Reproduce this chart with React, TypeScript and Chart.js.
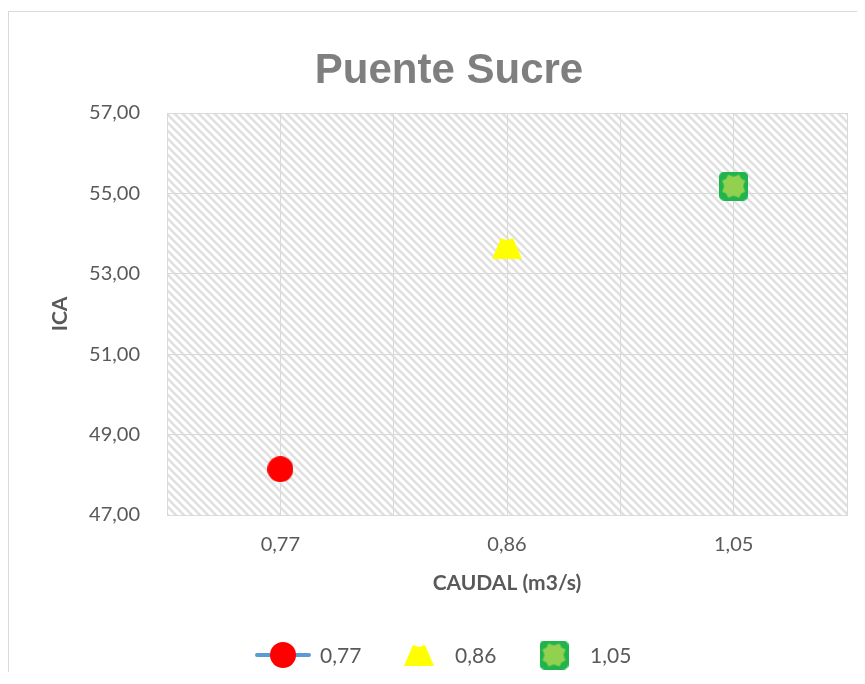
import React, { useEffect, useRef } from "react";
import { Chart, registerables } from "chart.js";
Chart.register(...registerables);

const chartTitle = "Puente Sucre";
const xAxisTitle = "CAUDAL (m3/s)";
const yAxisTitle = "ICA";
const categories = ["0,77", "0,86", "1,05"];
const icaValues = [48.14, 53.64, 55.18];
const yMin = 47;
const yMax = 57;
const yStep = 2;

const W = 856;
const H = 660;

function makeCanvas(w: number, h: number) {
  const c = document.createElement("canvas");
  c.width = w;
  c.height = h;
  return c;
}

function circleMarker() {
  const c = makeCanvas(26, 26);
  const g = c.getContext("2d")!;
  g.fillStyle = "#ff0000";
  g.beginPath();
  g.arc(13, 13, 13, 0, Math.PI * 2);
  g.fill();
  return c;
}

function triangleMarker() {
  const c = makeCanvas(30, 22);
  const g = c.getContext("2d")!;
  g.fillStyle = "#ffff00";
  g.beginPath();
  g.moveTo(0, 22);
  g.lineTo(30, 22);
  g.lineTo(21, 1);
  g.lineTo(18, 2);
  g.lineTo(15, 3);
  g.lineTo(12, 2);
  g.lineTo(9, 1);
  g.closePath();
  g.fill();
  return c;
}

function squareMarker() {
  const c = makeCanvas(29, 29);
  const g = c.getContext("2d")!;
  g.fillStyle = "#1fb44c";
  g.beginPath();
  (g as any).roundRect(0, 0, 29, 29, 5);
  g.fill();
  g.fillStyle = "#92d050";
  g.beginPath();
  const pts = [
    [9, 3], [14.5, 5], [20, 3], [22, 7], [26, 9], [24, 14.5], [26, 20], [22, 22],
    [20, 26], [14.5, 24], [9, 26], [7, 22], [3, 20], [5, 14.5], [3, 9], [7, 7],
  ];
  pts.forEach((p, i) => (i === 0 ? g.moveTo(p[0], p[1]) : g.lineTo(p[0], p[1])));
  g.closePath();
  g.fill();
  return c;
}

function legendLineCircle() {
  const c = makeCanvas(56, 26);
  const g = c.getContext("2d")!;
  g.strokeStyle = "#5b9bd5";
  g.lineWidth = 4;
  g.lineCap = "round";
  g.beginPath();
  g.moveTo(2, 13);
  g.lineTo(54, 13);
  g.stroke();
  g.drawImage(circleMarker(), 15, 0);
  return c;
}

function hatchPattern(ctx: CanvasRenderingContext2D) {
  const s = 8;
  const c = makeCanvas(s, s);
  const g = c.getContext("2d")!;
  g.fillStyle = "#ffffff";
  g.fillRect(0, 0, s, s);
  g.strokeStyle = "#e0e0e0";
  g.lineWidth = 2.6;
  g.beginPath();
  g.moveTo(-2, -2);
  g.lineTo(s + 2, s + 2);
  g.moveTo(-s - 2, -2);
  g.lineTo(2, s + 2);
  g.moveTo(s - 2, -2);
  g.lineTo(2 * s + 2, s + 2);
  g.stroke();
  return ctx.createPattern(c, "repeat")!;
}

export default function App() {
  const ref = useRef<HTMLCanvasElement>(null);
  useEffect(() => {
    const markers = [circleMarker(), triangleMarker(), squareMarker()];
    const legendIcons = [legendLineCircle(), triangleMarker(), squareMarker()];
    const decorPlugin = {
      id: "decor",
      beforeDraw(chart: any) {
        const { ctx, chartArea: a } = chart;
        ctx.save();
        ctx.fillStyle = "#ffffff";
        ctx.fillRect(0, 0, chart.width, chart.height);
        ctx.fillStyle = hatchPattern(ctx);
        ctx.fillRect(a.left, a.top, a.right - a.left, a.bottom - a.top);
        ctx.restore();
      },
      afterDraw(chart: any) {
        const { ctx, chartArea: a } = chart;
        ctx.save();
        ctx.fillStyle = "#7f7f7f";
        ctx.font = "bold 42px 'Liberation Sans', Arial, sans-serif";
        ctx.textAlign = "center";
        ctx.textBaseline = "alphabetic";
        ctx.fillText(chartTitle, 440, 71);

        ctx.textBaseline = "middle";
        ctx.fillStyle = "#595959";
        ctx.font = "bold 21px Lato, sans-serif";
        ctx.fillText(xAxisTitle, (a.left + a.right) / 2, 571);
        ctx.save();
        ctx.translate(51, (a.top + a.bottom) / 2);
        ctx.rotate(-Math.PI / 2);
        ctx.fillText(yAxisTitle, 0, 0);
        ctx.restore();

        // legend
        const iconX = [274, 410, 545];
        const textX = [311, 446, 581];
        const ly = 643;
        ctx.font = "21px Lato, sans-serif";
        ctx.textAlign = "left";
        categories.forEach((lab, i) => {
          const ic = legendIcons[i];
          ctx.drawImage(ic, iconX[i] - ic.width / 2, ly - ic.height / 2);
          ctx.fillText(lab, textX[i], ly + 1);
        });
        ctx.restore();
      },
    };

    const chart = new Chart(ref.current!, {
      type: "scatter",
      data: {
        datasets: categories.map((c, i) => ({
          label: c,
          data: [{ x: 2 * i + 1, y: icaValues[i] }],
          pointStyle: markers[i] as any,
          pointRadius: 14,
          backgroundColor: "#ff0000",
          borderColor: "#ff0000",
        })),
      },
      options: {
        animation: false,
        responsive: false,
        events: [],
        layout: { padding: { left: 0, right: 15, top: 101, bottom: 0 } },
        plugins: {
          legend: { display: false },
          title: { display: false },
          tooltip: { enabled: false },
        },
        scales: {
          x: {
            type: "linear",
            min: 0,
            max: 6,
            afterFit: (s: any) => {
              s.height = H - 503;
            },
            afterBuildTicks: (s: any) => {
              s.ticks = [0, 1, 2, 3, 4, 5, 6].map((v) => ({ value: v }));
            },
            ticks: {
              color: "#595959",
              font: { family: "Lato, sans-serif", size: 20 },
              padding: 18,
              maxRotation: 0,
              autoSkip: false,
              callback: (v: any) => (Number(v) % 2 === 1 ? categories[(Number(v) - 1) / 2] : ""),
            },
            grid: { color: "#d9d9d9", lineWidth: 1, drawTicks: false },
            border: { display: true, color: "#d9d9d9", width: 1 },
          },
          y: {
            min: yMin,
            max: yMax,
            afterFit: (s: any) => {
              s.width = 158;
            },
            ticks: {
              stepSize: yStep,
              color: "#595959",
              font: { family: "Lato, sans-serif", size: 20 },
              padding: 27,
              callback: (v: any) => Number(v).toFixed(2).replace(".", ","),
            },
            grid: { color: "#d9d9d9", lineWidth: 1, drawTicks: false },
            border: { display: true, color: "#d9d9d9", width: 1 },
          },
        },
      },
      plugins: [decorPlugin],
    });
    return () => chart.destroy();
  }, []);

  return (
    <div style={{ paddingTop: 3 }}>
      <div
        style={{
          borderTop: "1px solid #d9d9d9",
          borderLeft: "1px solid #d9d9d9",
          width: W,
          height: H,
        }}
      >
        <canvas ref={ref} width={W} height={H} style={{ display: "block", width: W, height: H }} />
      </div>
    </div>
  );
}
